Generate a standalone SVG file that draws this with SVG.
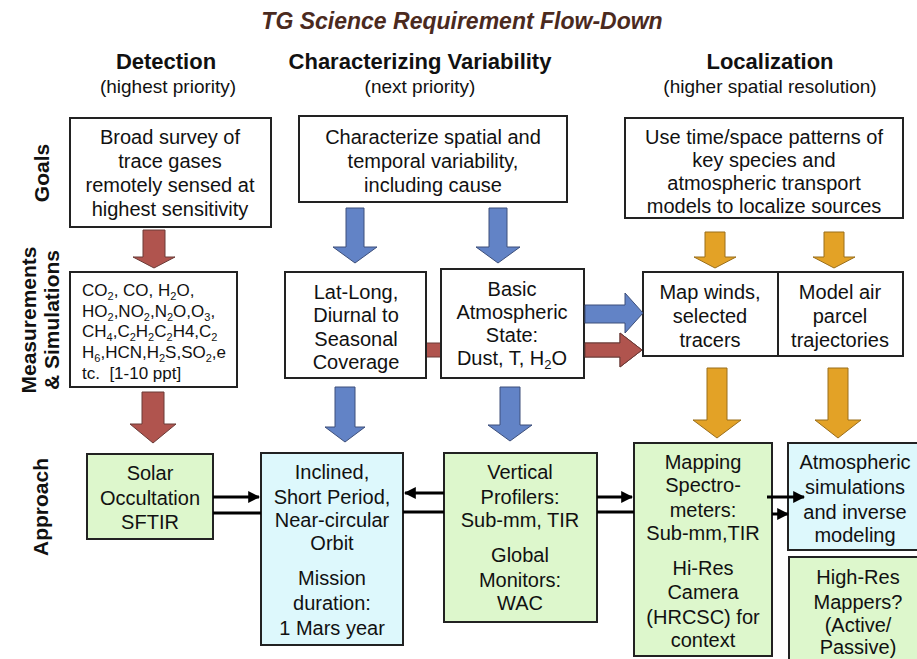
<svg xmlns="http://www.w3.org/2000/svg" width="917" height="659" viewBox="0 0 917 659">
<style>
text{font-family:"Liberation Sans",Arial,sans-serif;fill:#111;}
.t{font-size:20px;text-anchor:middle;}
.s{font-size:17px;}
.h{font-size:22px;font-weight:bold;text-anchor:middle;}
.p{font-size:19px;text-anchor:middle;}
.r{font-size:21px;font-weight:bold;text-anchor:middle;}
.box{fill:#fff;stroke:#222;stroke-width:2;}
.grn{fill:#DDF7CC;stroke:#222;stroke-width:2;}
.cyn{fill:#DDF8FC;stroke:#222;stroke-width:2;}
.red{fill:#B0544E;stroke:#6a3a36;stroke-width:1;}
.blu{fill:#6283C6;stroke:#3d4f7a;stroke-width:1;}
.org{fill:#E3A226;stroke:#9a6e1a;stroke-width:1;}
.ln{stroke:#000;stroke-width:3;fill:none;}
</style>
<defs>
<marker id="ah" viewBox="0 0 10 10" refX="9" refY="5" markerWidth="4" markerHeight="4" orient="auto" markerUnits="strokeWidth">
<path d="M0,0 L10,5 L0,10 Z" fill="#000"/>
</marker>
</defs>

<text x="462" y="29" style="font-size:23px;font-weight:bold;font-style:italic;text-anchor:middle;fill:#4B2A1E;">TG Science Requirement Flow-Down</text>

<g id="headers">
<text class="h" x="166" y="69">Detection</text>
<text class="p" x="168" y="93">(highest priority)</text>
<text class="h" x="420" y="69">Characterizing Variability</text>
<text class="p" x="420" y="93">(next priority)</text>
<text class="h" x="770" y="69">Localization</text>
<text class="p" x="770" y="93">(higher spatial resolution)</text>
</g>

<g id="rowlabels">
<text class="r" transform="translate(49,173) rotate(-90)">Goals</text>
<text class="r" transform="translate(36,320) rotate(-90)">Measurements</text>
<text class="r" transform="translate(59,320) rotate(-90)">&amp; Simulations</text>
<text class="r" transform="translate(48,507) rotate(-90)">Approach</text>
</g>

<g id="goal-detection">
<rect class="box" x="70" y="118" width="201" height="109"/>
<text class="t" x="170" y="144">Broad survey of</text>
<text class="t" x="170" y="168">trace gases</text>
<text class="t" x="170" y="192">remotely sensed at</text>
<text class="t" x="170" y="216">highest sensitivity</text>
</g>

<g id="goal-variability">
<rect class="box" x="299" y="116" width="268" height="86"/>
<text class="t" x="433" y="144">Characterize spatial and</text>
<text class="t" x="433" y="168">temporal variability,</text>
<text class="t" x="433" y="192">including cause</text>
</g>

<g id="goal-localization">
<rect class="box" x="625" y="118" width="278" height="100"/>
<text class="t" x="764" y="144">Use time/space patterns of</text>
<text class="t" x="764" y="167">key species and</text>
<text class="t" x="764" y="190">atmospheric transport</text>
<text class="t" x="764" y="213">models to localize sources</text>
</g>

<g id="connectors-under">
<path class="red" d="M426,343 L620,343 L620,333 L642,350 L620,367 L620,357 L426,357 Z"/>
</g>

<g id="meas-gases">
<rect class="box" x="70" y="272" width="167" height="115"/>
<text class="s" x="82" y="296">CO<tspan font-size="11" dy="4">2</tspan><tspan dy="-4">, CO, H</tspan><tspan font-size="11" dy="4">2</tspan><tspan dy="-4">O,</tspan></text>
<text class="s" x="82" y="317">HO<tspan font-size="11" dy="4">2</tspan><tspan dy="-4">,NO</tspan><tspan font-size="11" dy="4">2</tspan><tspan dy="-4">,N</tspan><tspan font-size="11" dy="4">2</tspan><tspan dy="-4">O,O</tspan><tspan font-size="11" dy="4">3</tspan><tspan dy="-4">,</tspan></text>
<text class="s" x="82" y="337">CH<tspan font-size="11" dy="4">4</tspan><tspan dy="-4">,C</tspan><tspan font-size="11" dy="4">2</tspan><tspan dy="-4">H</tspan><tspan font-size="11" dy="4">2</tspan><tspan dy="-4">C</tspan><tspan font-size="11" dy="4">2</tspan><tspan dy="-4">H4,C</tspan><tspan font-size="11" dy="4">2</tspan></text>
<text class="s" x="82" y="358">H<tspan font-size="11" dy="4">6</tspan><tspan dy="-4">,HCN,H</tspan><tspan font-size="11" dy="4">2</tspan><tspan dy="-4">S,SO</tspan><tspan font-size="11" dy="4">2</tspan><tspan dy="-4">,e</tspan></text>
<text class="s" x="82" y="379">tc.&#160; [1-10 ppt]</text>
</g>

<g id="meas-coverage">
<rect class="box" x="285" y="272" width="141" height="106"/>
<text class="t" x="356" y="299">Lat-Long,</text>
<text class="t" x="356" y="322">Diurnal to</text>
<text class="t" x="356" y="346">Seasonal</text>
<text class="t" x="356" y="369">Coverage</text>
</g>

<g id="meas-state">
<rect class="box" x="441" y="269" width="143" height="109"/>
<text class="t" x="512" y="296">Basic</text>
<text class="t" x="512" y="319">Atmospheric</text>
<text class="t" x="512" y="342">State:</text>
<text class="t" x="512" y="365">Dust, T, H<tspan font-size="13" dy="4">2</tspan><tspan dy="-4">O</tspan></text>
</g>

<g id="meas-winds">
<rect class="box" x="643" y="272" width="135" height="84"/>
<text class="t" x="710" y="299">Map winds,</text>
<text class="t" x="710" y="323">selected</text>
<text class="t" x="710" y="347">tracers</text>
</g>

<g id="meas-parcel">
<rect class="box" x="778" y="272" width="125" height="84"/>
<text class="t" x="840" y="299">Model air</text>
<text class="t" x="840" y="323">parcel</text>
<text class="t" x="840" y="347">trajectories</text>
</g>

<g id="app-solar">
<rect class="grn" x="87" y="454" width="126" height="85"/>
<text class="t" x="150" y="480">Solar</text>
<text class="t" x="150" y="505">Occultation</text>
<text class="t" x="150" y="529">SFTIR</text>
</g>

<g id="app-orbit">
<rect class="cyn" x="261" y="453" width="142" height="192"/>
<text class="t" x="332" y="479">Inclined,</text>
<text class="t" x="332" y="504">Short Period,</text>
<text class="t" x="332" y="527">Near-circular</text>
<text class="t" x="332" y="550">Orbit</text>
<text class="t" x="332" y="585">Mission</text>
<text class="t" x="332" y="610">duration:</text>
<text class="t" x="332" y="635">1 Mars year</text>
</g>

<g id="app-profilers">
<rect class="grn" x="444" y="453" width="153" height="169"/>
<text class="t" x="520" y="479">Vertical</text>
<text class="t" x="520" y="504">Profilers:</text>
<text class="t" x="520" y="527">Sub-mm, TIR</text>
<text class="t" x="520" y="562">Global</text>
<text class="t" x="520" y="587">Monitors:</text>
<text class="t" x="520" y="610">WAC</text>
</g>

<g id="app-mapping">
<rect class="grn" x="634" y="443" width="138" height="213"/>
<text class="t" x="703" y="469">Mapping</text>
<text class="t" x="703" y="492">Spectro-</text>
<text class="t" x="703" y="517">meters:</text>
<text class="t" x="703" y="540">Sub-mm,TIR</text>
<text class="t" x="703" y="575">Hi-Res</text>
<text class="t" x="703" y="599">Camera</text>
<text class="t" x="703" y="624">(HRCSC) for</text>
<text class="t" x="703" y="647">context</text>
</g>

<g id="app-simulations">
<rect class="cyn" x="788" y="443" width="140" height="107"/>
<text class="t" x="855" y="469">Atmospheric</text>
<text class="t" x="855" y="494">simulations</text>
<text class="t" x="855" y="519">and inverse</text>
<text class="t" x="855" y="542">modeling</text>
</g>

<g id="app-highres">
<rect class="grn" x="789" y="557" width="140" height="110"/>
<text class="t" x="858" y="584">High-Res</text>
<text class="t" x="858" y="609">Mappers?</text>
<text class="t" x="858" y="632">(Active/</text>
<text class="t" x="858" y="654">Passive)</text>
</g>

<g id="connectors">
<path class="red" d="M143,230 L165,230 L165,257 L175,257 L154,268 L133,257 L143,257 Z"/>
<path class="red" d="M142,392 L164,392 L164,424 L176,424 L153,443 L130,424 L142,424 Z"/>
<path class="blu" d="M346,208 L364,208 L364,247 L377,247 L355,263 L333,247 L346,247 Z"/>
<path class="blu" d="M489,208 L507,208 L507,247 L520,247 L498,263 L476,247 L489,247 Z"/>
<path class="org" d="M705,232 L725,232 L725,257 L736,257 L715,268 L694,257 L705,257 Z"/>
<path class="org" d="M824,232 L844,232 L844,257 L855,257 L834,268 L813,257 L824,257 Z"/>
<path class="blu" d="M335,387 L355,387 L355,427 L365,427 L345,442 L325,427 L335,427 Z"/>
<path class="blu" d="M500,387 L520,387 L520,425 L532,425 L510,441 L488,425 L500,425 Z"/>
<path class="org" d="M707,368 L727,368 L727,420 L741,420 L717,438 L693,420 L707,420 Z"/>
<path class="org" d="M828,368 L848,368 L848,420 L861,420 L838,438 L815,420 L828,420 Z"/>
<path class="blu" d="M585,305 L625,305 L625,293 L643,313 L625,333 L625,323 L585,323 Z"/>
<path class="red" d="M585,343 L620,343 L620,333 L642,350 L620,367 L620,357 L585,357 Z"/>
<line class="ln" x1="213" y1="497" x2="259" y2="497" marker-end="url(#ah)"/>
<line class="ln" x1="213" y1="513" x2="261" y2="513"/>
<line class="ln" x1="444" y1="493" x2="405" y2="493" marker-end="url(#ah)"/>
<line class="ln" x1="403" y1="512" x2="444" y2="512"/>
<line class="ln" x1="597" y1="497" x2="632" y2="497" marker-end="url(#ah)"/>
<line class="ln" x1="597" y1="512" x2="634" y2="512"/>
<line class="ln" x1="767" y1="497" x2="804" y2="497" marker-end="url(#ah)"/>
<line class="ln" x1="772" y1="514" x2="788" y2="514" marker-end="url(#ah)"/>
</g>
</svg>
